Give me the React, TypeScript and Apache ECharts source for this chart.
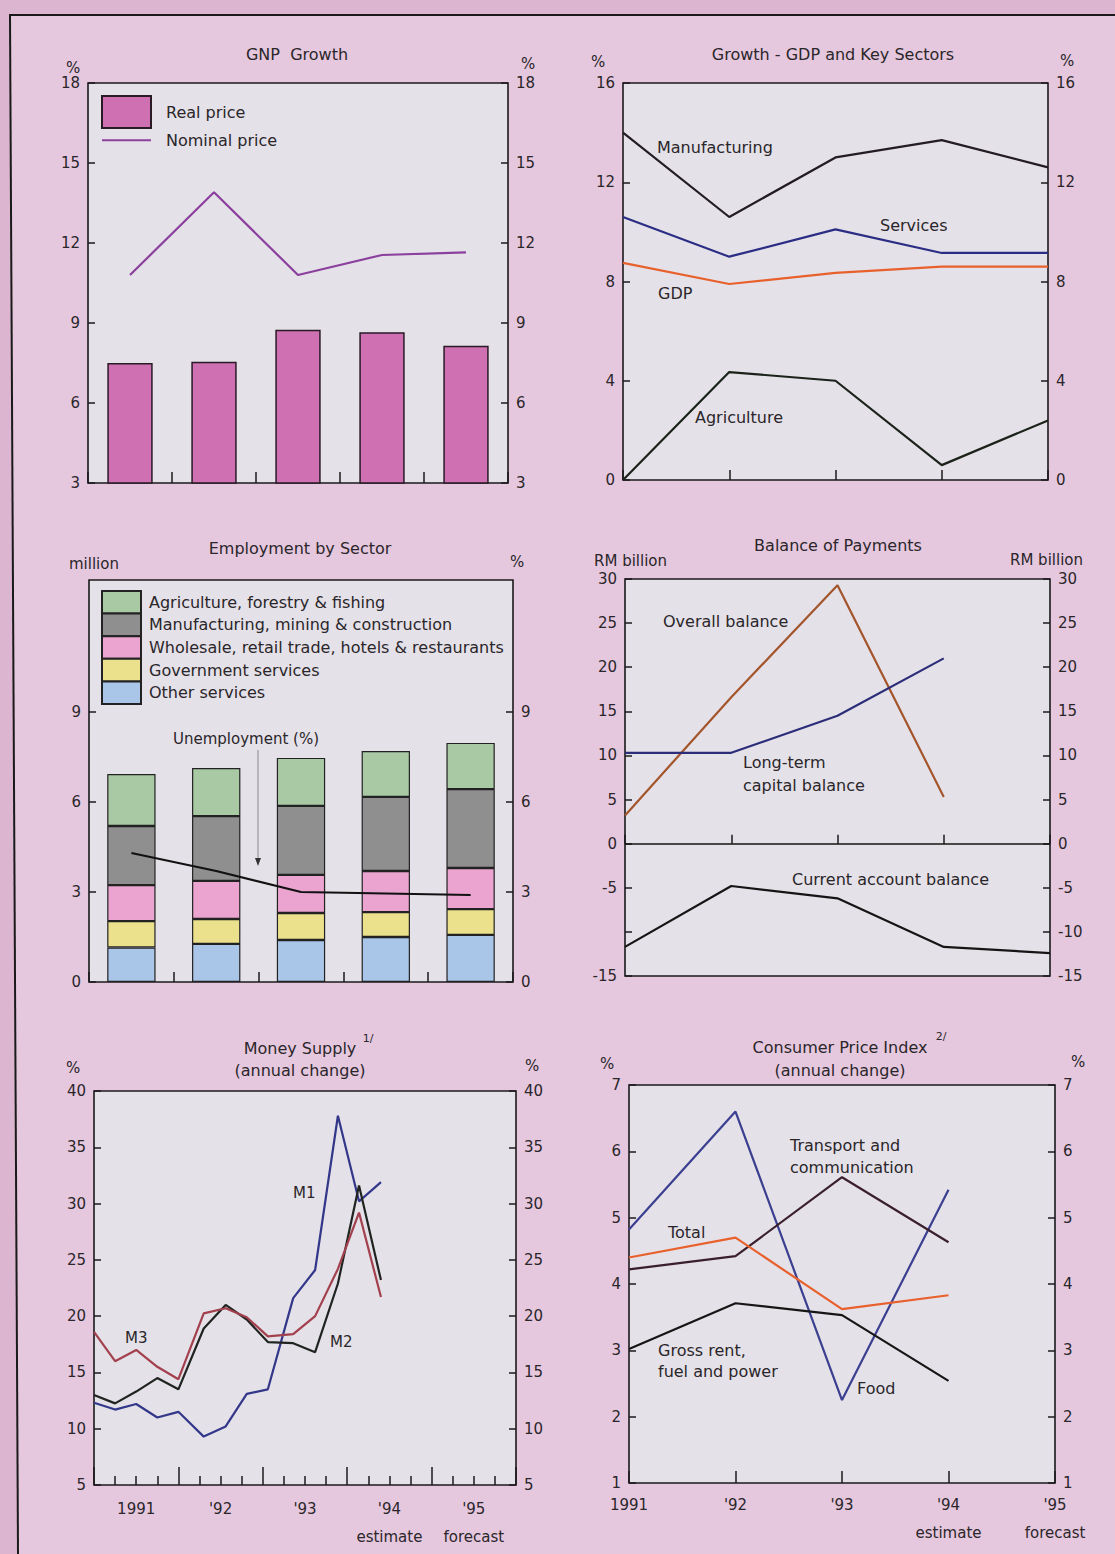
import React, { useEffect, useRef } from 'react';
import * as echarts from 'echarts';

// ---------- data ----------
const years = ['1991', '1992', '1993', '1994', '1995'];
const yearTickLabels = ['1991', "'92", "'93", "'94\nestimate", "'95\nforecast"];

// GNP Growth (%)
const gnpReal = [7.5, 7.55, 8.75, 8.65, 8.15];
const gnpNominal = [10.8, 13.9, 10.8, 11.55, 11.65];

// Growth - GDP and key sectors (%)
const manufacturing = [14.0, 10.6, 13.0, 13.7, 12.6];
const servicesGrowth = [10.6, 9.0, 10.1, 9.15, 9.15];
const gdpGrowth = [8.75, 7.9, 8.35, 8.6, 8.6];
const agricultureGrowth = [0, 4.35, 4.0, 0.6, 2.4];

// Employment by sector (million)
const empOther = [1.15, 1.27, 1.4, 1.5, 1.57];
const empGov = [0.88, 0.83, 0.9, 0.83, 0.86];
const empTrade = [1.2, 1.27, 1.27, 1.37, 1.37];
const empMfg = [1.97, 2.16, 2.3, 2.47, 2.63];
const empAgri = [1.73, 1.6, 1.6, 1.53, 1.54];
const unemployment = [4.3, 3.7, 3.0, 2.95, 2.9];
const empLegendNames = [
  'Agriculture, forestry & fishing',
  'Manufacturing, mining & construction',
  'Wholesale, retail trade, hotels & restaurants',
  'Government services',
  'Other services',
];

// Balance of payments (RM billion)
const overallBalance = [3.2, 16.6, 29.3, 5.3, null];
const longTermCapital = [10.3, 10.3, 14.5, 21.0, null];
const currentAccount = [-11.7, -4.8, -6.2, -11.7, -12.4];

// Money supply (annual change, %), x in years
const msTime = [1991.0, 1991.25, 1991.5, 1991.75, 1992.0, 1992.3, 1992.56, 1992.81, 1993.06, 1993.36, 1993.62, 1993.89, 1994.14, 1994.4];
const m1 = [12.3, 11.7, 12.2, 11.0, 11.5, 9.3, 10.2, 13.1, 13.5, 21.6, 24.1, 37.8, 30.2, 31.9];
const m2 = [13.0, 12.25, 13.3, 14.5, 13.5, 18.9, 21.0, 19.7, 17.7, 17.6, 16.8, 22.9, 31.6, 23.2];
const m3 = [18.6, 16.0, 17.0, 15.5, 14.4, 20.25, 20.7, 19.9, 18.2, 18.4, 20.0, 24.2, 29.2, 21.7];

// Consumer price index (annual change, %)
const cpiFood = [4.82, 6.6, 2.25, 5.42, null];
const cpiTransport = [4.22, 4.42, 5.61, 4.63, null];
const cpiTotal = [4.4, 4.7, 3.62, 3.83, null];
const cpiRent = [3.02, 3.71, 3.53, 2.54, null];

// ---------- styles ----------
const FONT = '"DejaVu Sans", "Liberation Sans", Arial, sans-serif';
const TXT = '#2a262a';
const PLOT_BG = '#e5e1e8';
const BORDER = '#1c1a1c';

const tickStyle = { color: BORDER, width: 1.5 };
const labelStyle = { color: TXT, fontSize: 15, fontFamily: FONT, margin: 8 };

function yPair(grid: number, min: number, max: number, interval: number, leftLabel: any = {}, rightLabel: any = {}, tickExtra: any = {}) {
  const base = (pos: string, lab: any) => ({
    gridIndex: grid,
    type: 'value',
    position: pos,
    min,
    max,
    interval,
    axisLine: { show: false },
    axisTick: { show: true, inside: true, length: 7, lineStyle: tickStyle, ...tickExtra },
    axisLabel: { ...labelStyle, ...lab },
    splitLine: { show: false },
  });
  return [base('left', leftLabel), base('right', rightLabel)];
}

function catX(grid: number, boundaryGap: boolean, tickLen: number, labels: any = { show: false }) {
  return {
    gridIndex: grid,
    type: 'category',
    data: years,
    boundaryGap,
    axisLine: { show: false },
    axisTick: { show: true, inside: true, length: tickLen, lineStyle: tickStyle },
    axisLabel: labels,
    splitLine: { show: false },
  };
}

function txt(text: string, x: number, y: number, align = 'left', size = 16) {
  return {
    type: 'text',
    x,
    y,
    z: 100,
    style: {
      text,
      fill: TXT,
      fontSize: size,
      fontFamily: FONT,
      align,
      verticalAlign: 'middle',
      textAlign: align,
      textVerticalAlign: 'middle',
    },
  };
}

function lineSeries(name: string, data: any[], color: string, x: number, y: number, width = 2.2) {
  return {
    name,
    type: 'line',
    xAxisIndex: x,
    yAxisIndex: y,
    data,
    symbol: 'none',
    lineStyle: { color, width },
    itemStyle: { color },
    z: 5,
  };
}

function legendItem(item: any, top: number, w: number, h: number, size: number, textPad: number[]) {
  return {
    data: [item],
    orient: 'vertical',
    left: 101,
    top,
    padding: 0,
    itemWidth: w,
    itemHeight: h,
    selectedMode: false,
    textStyle: { color: TXT, fontSize: size, fontFamily: FONT, padding: textPad },
  };
}

export default function App() {
  const ref = useRef<HTMLDivElement>(null);

  useEffect(() => {
    if (!ref.current) return;
    const chart = echarts.init(ref.current, undefined, { renderer: 'svg' });

    const grids = [
      { left: 88, top: 83, width: 420, height: 400 },
      { left: 623, top: 83, width: 425, height: 397 },
      { left: 89, top: 580, width: 424, height: 402 },
      { left: 625, top: 579, width: 425, height: 397 },
      { left: 94, top: 1091, width: 422, height: 394 },
      { left: 629, top: 1085, width: 426, height: 398 },
    ].map((g) => ({ ...g, show: true, backgroundColor: PLOT_BG, borderColor: BORDER, borderWidth: 1.6, containLabel: false }));

    const xLabelStyle = { ...labelStyle, lineHeight: 28 };

    const xAxis = [
      catX(0, true, 11),
      catX(1, false, 10),
      catX(2, true, 10),
      catX(3, false, 9),
      {
        gridIndex: 4,
        type: 'value',
        min: 1991,
        max: 1996,
        interval: 1,
        axisLine: { show: false },
        axisTick: { show: true, inside: true, length: 18, lineStyle: tickStyle },
        minorTick: { show: true, splitNumber: 4, length: 9, lineStyle: tickStyle },
        axisLabel: {
          ...xLabelStyle,
          margin: 10,
          customValues: [1991.5, 1992.5, 1993.5, 1994.5, 1995.5],
          formatter: (v: number) => yearTickLabels[Math.round(v - 1991.5)] ?? '',
        },
        splitLine: { show: false },
      },
      catX(5, false, 12, { ...xLabelStyle, margin: 8, formatter: (_v: string, i: number) => yearTickLabels[i] }),
    ];

    const yAxis = [
      ...yPair(0, 3, 18, 3),
      ...yPair(1, 0, 16, 4),
      ...yPair(2, 0, 13.4, 3, { customValues: [0, 3, 6, 9] }, { customValues: [0, 3, 6, 9] }, { customValues: [0, 3, 6, 9] }),
      ...yPair(3, -15, 30, 5, { formatter: (v: number) => (v === -10 ? '' : String(v)) }),
      ...yPair(4, 5, 40, 5),
      ...yPair(5, 1, 7, 1),
    ];

    const empStyle = (color: string) => ({ color, borderColor: '#222', borderWidth: 1.2 });

    const series: any[] = [
      // GNP
      {
        name: 'Real price',
        type: 'bar',
        xAxisIndex: 0,
        yAxisIndex: 0,
        data: gnpReal,
        barWidth: '54%',
        itemStyle: { color: '#cf70b3', borderColor: '#2a1a26', borderWidth: 1.5 },
      },
      lineSeries('Nominal price', gnpNominal, '#8b409e', 0, 0),
      // Growth
      lineSeries('Manufacturing', manufacturing, '#231c22', 1, 2),
      lineSeries('Services', servicesGrowth, '#2b2d84', 1, 2),
      lineSeries('GDP', gdpGrowth, '#e8602c', 1, 2),
      lineSeries('Agriculture', agricultureGrowth, '#1a221a', 1, 2),
      // Employment
      { name: empLegendNames[4], type: 'bar', stack: 'emp', xAxisIndex: 2, yAxisIndex: 4, data: empOther, barWidth: '57%', itemStyle: empStyle('#a9c6e8') },
      { name: empLegendNames[3], type: 'bar', stack: 'emp', xAxisIndex: 2, yAxisIndex: 4, data: empGov, barWidth: '57%', itemStyle: empStyle('#ebe08b') },
      { name: empLegendNames[2], type: 'bar', stack: 'emp', xAxisIndex: 2, yAxisIndex: 4, data: empTrade, barWidth: '57%', itemStyle: empStyle('#eba3cf') },
      { name: empLegendNames[1], type: 'bar', stack: 'emp', xAxisIndex: 2, yAxisIndex: 4, data: empMfg, barWidth: '57%', itemStyle: empStyle('#8f8f90') },
      { name: empLegendNames[0], type: 'bar', stack: 'emp', xAxisIndex: 2, yAxisIndex: 4, data: empAgri, barWidth: '57%', itemStyle: empStyle('#a9c9a4') },
      lineSeries('Unemployment (%)', unemployment, '#111111', 2, 5),
      // Balance of payments
      lineSeries('Overall balance', overallBalance, '#a3552c', 3, 6),
      lineSeries('Long-term capital balance', longTermCapital, '#2b2d78', 3, 6),
      {
        ...lineSeries('Current account balance', currentAccount, '#151515', 3, 6),
        markLine: {
          silent: true,
          symbol: 'none',
          label: { show: false },
          lineStyle: { color: '#151515', width: 1.5, type: 'solid' },
          data: [{ yAxis: 0 }],
        },
      },
      // Money supply
      lineSeries('M1', msTime.map((t, i) => [t, m1[i]]), '#33378a', 4, 8),
      lineSeries('M2', msTime.map((t, i) => [t, m2[i]]), '#1f2420', 4, 8),
      lineSeries('M3', msTime.map((t, i) => [t, m3[i]]), '#a2404e', 4, 8),
      // CPI
      lineSeries('Food', cpiFood, '#3b3f90', 5, 10),
      lineSeries('Transport and communication', cpiTransport, '#3a1f2c', 5, 10),
      lineSeries('Total', cpiTotal, '#e8602c', 5, 10),
      lineSeries('Gross rent, fuel and power', cpiRent, '#161616', 5, 10),
    ];

    const legend: any[] = [
      legendItem({ name: 'Real price', icon: 'rect' }, 95, 49, 32, 16, [0, 0, 8, 10]),
      legendItem({ name: 'Nominal price', itemStyle: { opacity: 0 } }, 129, 49, 28, 16, [0, 0, 0, 10]),
      ...empLegendNames.map((name, i) =>
        legendItem({ name, icon: 'rect' }, 590 + i * 22.6, 39, 22.6, 16, [0, 0, 2, 3])
      ),
    ];

    const graphic: any[] = [
      // page frame
      { type: 'polygon', z: -10, shape: { points: [[0, 0], [1115, 0], [1115, 15], [10, 15], [18, 1554], [0, 1554]] }, style: { fill: '#dcb6d1' } },
      { type: 'line', z: 50, shape: { x1: 9, y1: 15, x2: 1115, y2: 15 }, style: { stroke: '#1a1a1a', lineWidth: 2 } },
      { type: 'line', z: 50, shape: { x1: 10, y1: 15, x2: 18, y2: 1554 }, style: { stroke: '#1a1a1a', lineWidth: 2 } },
      // panel 1
      txt('GNP  Growth', 297, 54, 'center'),
      txt('%', 73, 68, 'center', 15),
      txt('%', 528, 64, 'center', 15),
      // panel 2
      txt('Growth - GDP and Key Sectors', 833, 54, 'center'),
      txt('%', 598, 62, 'center', 15),
      txt('%', 1067, 61, 'center', 15),
      txt('Manufacturing', 657, 147),
      txt('Services', 880, 225),
      txt('GDP', 658, 293),
      txt('Agriculture', 695, 417),
      // panel 3
      txt('Employment by Sector', 300, 548, 'center'),
      txt('million', 69, 564, 'left', 15),
      txt('%', 517, 562, 'center', 15),
      txt('Unemployment (%)', 173, 739, 'left', 15),
      { type: 'line', z: 60, shape: { x1: 258, y1: 750, x2: 258, y2: 860 }, style: { stroke: '#8a8a8a', lineWidth: 1 } },
      { type: 'polygon', z: 60, shape: { points: [[255, 858], [261, 858], [258, 866]] }, style: { fill: '#333' } },
      // panel 4
      txt('Balance of Payments', 838, 545, 'center'),
      txt('RM billion', 594, 561, 'left', 15),
      txt('RM billion', 1083, 560, 'right', 15),
      txt('Overall balance', 663, 621),
      txt('Long-term', 743, 762),
      txt('capital balance', 743, 785),
      txt('Current account balance', 792, 879),
      // panel 5
      txt('Money Supply', 300, 1048, 'center'),
      txt('1/', 368, 1038, 'center', 11),
      txt('(annual change)', 300, 1070, 'center'),
      txt('%', 73, 1068, 'center', 15),
      txt('%', 532, 1066, 'center', 15),
      txt('M1', 293, 1193, 'left', 15),
      txt('M3', 125, 1338, 'left', 15),
      txt('M2', 330, 1342, 'left', 15),
      // panel 6
      txt('Consumer Price Index', 840, 1047, 'center'),
      txt('2/', 941, 1036, 'center', 11),
      txt('(annual change)', 840, 1070, 'center'),
      txt('%', 607, 1064, 'center', 15),
      txt('%', 1078, 1062, 'center', 15),
      txt('Transport and', 790, 1145),
      txt('communication', 790, 1167),
      txt('Total', 668, 1232),
      txt('Gross rent,', 658, 1350),
      txt('fuel and power', 658, 1371),
      txt('Food', 857, 1388),
    ];

    chart.setOption({
      animation: false,
      backgroundColor: '#e6c8de',
      grid: grids,
      xAxis,
      yAxis,
      series,
      legend,
      graphic,
    });

    return () => chart.dispose();
  }, []);

  return (
    <div
      ref={ref}
      style={{ position: 'absolute', left: 0, top: 0, width: 1115, height: 1554 }}
    />
  );
}
